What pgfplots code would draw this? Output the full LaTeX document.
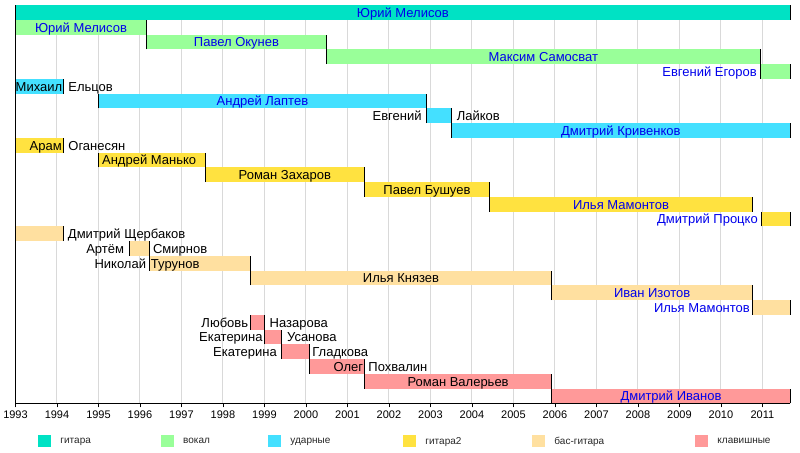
\documentclass[border=0pt]{standalone}
\usepackage{pgfplots}
\pgfplotsset{compat=1.18}
\usepackage{fontspec}
\setmainfont{Liberation Sans}
\definecolor{gitaraC}{RGB}{0,226,196}
\definecolor{vokalC}{RGB}{153,255,153}
\definecolor{udarC}{RGB}{68,224,255}
\definecolor{gtwoC}{RGB}{255,226,64}
\definecolor{bassC}{RGB}{255,224,160}
\definecolor{keysC}{RGB}{255,153,153}
\definecolor{lblue}{RGB}{0,0,235}
\tikzset{lbl/.style={font=\fontsize{13bp}{15bp}\selectfont, inner sep=0pt}}
\begin{document}
\begin{tikzpicture}
\path[use as bounding box] (0,0) rectangle (800bp,453bp);
\begin{axis}[
  at={(15.5bp,49.7bp)}, anchor=south west,
  scale only axis, width=774.8bp, height=398.3bp,
  xmin=1993, xmax=2011.67, ymin=0, ymax=27,
  axis x line*=bottom, axis y line*=left,
  ytick=\empty,
  xtick={1993,1994,...,2011},
  x tick label style={font=\fontsize{11bp}{12bp}\selectfont, /pgf/number format/1000 sep=, /pgf/number format/assume math mode=true},
  xmajorgrids, grid style={color=black!15, line width=1bp},
  major tick length=4bp, xtick align=outside, tick style={black, line width=0.8bp},
  axis line style={black, line width=1bp, -},
  clip=false,
  legend columns=6,
  legend image code/.code={\fill[#1] (0bp,-6.2bp) rectangle (12.4bp,6.2bp);},
  legend style={at={(axis description cs:0.0294,-0.0954)}, anchor=west, draw=none, fill=none,
    inner sep=0pt, /tikz/column sep=0pt, nodes={inner sep=0pt, font=\fontsize{10bp}{11bp}\selectfont, text=black!85}},
  legend cell align=left,
]
\addlegendimage{fill=gitaraC, draw=none}
\addlegendentry{\hspace*{9.6bp}\makebox[100.7bp][l]{гитара}}
\addlegendimage{fill=vokalC, draw=none}
\addlegendentry{\hspace*{9.6bp}\makebox[85.3bp][l]{вокал}}
\addlegendimage{fill=udarC, draw=none}
\addlegendentry{\hspace*{9.6bp}\makebox[113bp][l]{ударные}}
\addlegendimage{fill=gtwoC, draw=none}
\addlegendentry{\hspace*{9.6bp}\makebox[107bp][l]{гитара2}}
\addlegendimage{fill=bassC, draw=none}
\addlegendentry{\hspace*{9.6bp}\makebox[141bp][l]{бас-гитара}}
\addlegendimage{fill=keysC, draw=none}
\addlegendentry{\hspace*{9.6bp}\makebox[60bp][l]{клавишные}}

% гитара
\addplot[fill=gitaraC, draw=none, forget plot] coordinates {(1993,26) (2011.67,26) (2011.67,27) (1993,27)} -- cycle;
% вокал
\addplot[fill=vokalC, draw=none, forget plot] coordinates {(1993,25) (1996.16,25) (1996.16,26) (1993,26)} -- cycle;
\addplot[fill=vokalC, draw=none, forget plot] coordinates {(1996.16,24) (2000.49,24) (2000.49,25) (1996.16,25)} -- cycle;
\addplot[fill=vokalC, draw=none, forget plot] coordinates {(2000.49,23) (2010.95,23) (2010.95,24) (2000.49,24)} -- cycle;
\addplot[fill=vokalC, draw=none, forget plot] coordinates {(2010.95,22) (2011.67,22) (2011.67,23) (2010.95,23)} -- cycle;
% ударные
\addplot[fill=udarC, draw=none, forget plot] coordinates {(1993,21) (1994.15,21) (1994.15,22) (1993,22)} -- cycle;
\addplot[fill=udarC, draw=none, forget plot] coordinates {(1995.0,20) (2002.90,20) (2002.90,21) (1995.0,21)} -- cycle;
\addplot[fill=udarC, draw=none, forget plot] coordinates {(2002.90,19) (2003.50,19) (2003.50,20) (2002.90,20)} -- cycle;
\addplot[fill=udarC, draw=none, forget plot] coordinates {(2003.50,18) (2011.67,18) (2011.67,19) (2003.50,19)} -- cycle;
% гитара2
\addplot[fill=gtwoC, draw=none, forget plot] coordinates {(1993,17) (1994.15,17) (1994.15,18) (1993,18)} -- cycle;
\addplot[fill=gtwoC, draw=none, forget plot] coordinates {(1995.0,16) (1997.57,16) (1997.57,17) (1995.0,17)} -- cycle;
\addplot[fill=gtwoC, draw=none, forget plot] coordinates {(1997.57,15) (2001.41,15) (2001.41,16) (1997.57,16)} -- cycle;
\addplot[fill=gtwoC, draw=none, forget plot] coordinates {(2001.41,14) (2004.42,14) (2004.42,15) (2001.41,15)} -- cycle;
\addplot[fill=gtwoC, draw=none, forget plot] coordinates {(2004.42,13) (2010.76,13) (2010.76,14) (2004.42,14)} -- cycle;
\addplot[fill=gtwoC, draw=none, forget plot] coordinates {(2010.98,12) (2011.67,12) (2011.67,13) (2010.98,13)} -- cycle;
% бас-гитара
\addplot[fill=bassC, draw=none, forget plot] coordinates {(1993,11) (1994.15,11) (1994.15,12) (1993,12)} -- cycle;
\addplot[fill=bassC, draw=none, forget plot] coordinates {(1995.74,10) (1996.22,10) (1996.22,11) (1995.74,11)} -- cycle;
\addplot[fill=bassC, draw=none, forget plot] coordinates {(1996.22,9) (1998.66,9) (1998.66,10) (1996.22,10)} -- cycle;
\addplot[fill=bassC, draw=none, forget plot] coordinates {(1998.66,8) (2005.92,8) (2005.92,9) (1998.66,9)} -- cycle;
\addplot[fill=bassC, draw=none, forget plot] coordinates {(2005.92,7) (2010.76,7) (2010.76,8) (2005.92,8)} -- cycle;
\addplot[fill=bassC, draw=none, forget plot] coordinates {(2010.76,6) (2011.67,6) (2011.67,7) (2010.76,7)} -- cycle;
% клавишные
\addplot[fill=keysC, draw=none, forget plot] coordinates {(1998.66,5) (1999.00,5) (1999.00,6) (1998.66,6)} -- cycle;
\addplot[fill=keysC, draw=none, forget plot] coordinates {(1999.00,4) (1999.42,4) (1999.42,5) (1999.00,5)} -- cycle;
\addplot[fill=keysC, draw=none, forget plot] coordinates {(1999.42,3) (2000.09,3) (2000.09,4) (1999.42,4)} -- cycle;
\addplot[fill=keysC, draw=none, forget plot] coordinates {(2000.09,2) (2001.41,2) (2001.41,3) (2000.09,3)} -- cycle;
\addplot[fill=keysC, draw=none, forget plot] coordinates {(2001.41,1) (2005.92,1) (2005.92,2) (2001.41,2)} -- cycle;
\addplot[fill=keysC, draw=none, forget plot] coordinates {(2005.92,0) (2011.67,0) (2011.67,1) (2005.92,1)} -- cycle;

% bar edge markers
\addplot[black, line width=1bp, forget plot, unbounded coords=jump] coordinates {
(2011.67,26) (2011.67,27) (2011.67,nan)
(1996.16,24) (1996.16,26) (1996.16,nan)
(2000.49,23) (2000.49,25) (2000.49,nan)
(2010.95,22) (2010.95,24) (2010.95,nan)
(2011.67,22) (2011.67,23) (2011.67,nan)
(1994.15,21) (1994.15,22) (1994.15,nan)
(1995.00,20) (1995.00,21) (1995.00,nan)
(2002.90,19) (2002.90,21) (2002.90,nan)
(2003.50,18) (2003.50,20) (2003.50,nan)
(2011.67,18) (2011.67,19) (2011.67,nan)
(1994.15,17) (1994.15,18) (1994.15,nan)
(1995.00,16) (1995.00,17) (1995.00,nan)
(1997.57,15) (1997.57,17) (1997.57,nan)
(2001.41,14) (2001.41,16) (2001.41,nan)
(2004.42,13) (2004.42,15) (2004.42,nan)
(2010.76,13) (2010.76,14) (2010.76,nan)
(2010.98,12) (2010.98,13) (2010.98,nan)
(2011.67,12) (2011.67,13) (2011.67,nan)
(1994.15,11) (1994.15,12) (1994.15,nan)
(1995.74,10) (1995.74,11) (1995.74,nan)
(1996.22,9) (1996.22,11) (1996.22,nan)
(1998.66,8) (1998.66,10) (1998.66,nan)
(2005.92,7) (2005.92,9) (2005.92,nan)
(2010.76,6) (2010.76,8) (2010.76,nan)
(2011.67,6) (2011.67,7) (2011.67,nan)
(1998.66,5) (1998.66,6) (1998.66,nan)
(1999.00,4) (1999.00,6) (1999.00,nan)
(1999.42,3) (1999.42,5) (1999.42,nan)
(2000.09,2) (2000.09,4) (2000.09,nan)
(2001.41,1) (2001.41,3) (2001.41,nan)
(2005.92,0) (2005.92,2) (2005.92,nan)
(2011.67,0) (2011.67,1) (2011.67,nan)
};

% labels
\node[lbl, text=lblue, anchor=base] at (axis cs:2002.335,26.16) {Юрий Мелисов};
\node[lbl, text=lblue, anchor=base] at (axis cs:1994.58,25.16) {Юрий Мелисов};
\node[lbl, text=lblue, anchor=base] at (axis cs:1998.325,24.16) {Павел Окунев};
\node[lbl, text=lblue, anchor=base] at (axis cs:2005.72,23.16) {Максим Самосват};
\node[lbl, text=lblue, anchor=base east] at (axis cs:2010.865,22.16) {Евгений Егоров};
\node[lbl, anchor=base east] at (axis cs:1994.13,21.16) {Михаил};
\node[lbl, anchor=base west] at (axis cs:1994.27,21.16) {Ельцов};
\node[lbl, text=lblue, anchor=base] at (axis cs:1998.95,20.16) {Андрей Лаптев};
\node[lbl, anchor=base east] at (axis cs:2002.79,19.16) {Евгений};
\node[lbl, anchor=base west] at (axis cs:2003.63,19.16) {Лайков};
\node[lbl, text=lblue, anchor=base] at (axis cs:2007.585,18.16) {Дмитрий Кривенков};
\node[lbl, anchor=base east] at (axis cs:1994.12,17.16) {Арам};
\node[lbl, anchor=base west] at (axis cs:1994.27,17.16) {Оганесян};
\node[lbl, anchor=base] at (axis cs:1996.22,16.16) {Андрей Манько};
\node[lbl, anchor=base] at (axis cs:1999.49,15.16) {Роман Захаров};
\node[lbl, anchor=base] at (axis cs:2002.915,14.16) {Павел Бушуев};
\node[lbl, text=lblue, anchor=base] at (axis cs:2007.59,13.16) {Илья Мамонтов};
\node[lbl, text=lblue, anchor=base east] at (axis cs:2010.89,12.16) {Дмитрий Процко};
\node[lbl, anchor=base west] at (axis cs:1994.26,11.16) {Дмитрий Щербаков};
\node[lbl, anchor=base east] at (axis cs:1995.62,10.16) {Артём};
\node[lbl, anchor=base west] at (axis cs:1996.31,10.16) {Смирнов};
\node[lbl, anchor=base east] at (axis cs:1996.15,9.16) {Николай};
\node[lbl, anchor=base west] at (axis cs:1996.26,9.16) {Турунов};
\node[lbl, anchor=base] at (axis cs:2002.29,8.16) {Илья Князев};
\node[lbl, text=lblue, anchor=base] at (axis cs:2008.34,7.16) {Иван Изотов};
\node[lbl, text=lblue, anchor=base east] at (axis cs:2010.70,6.16) {Илья Мамонтов};
\node[lbl, anchor=base east] at (axis cs:1998.61,5.16) {Любовь};
\node[lbl, anchor=base west] at (axis cs:1999.12,5.16) {Назарова};
\node[lbl, anchor=base east] at (axis cs:1998.96,4.16) {Екатерина};
\node[lbl, anchor=base west] at (axis cs:1999.54,4.16) {Усанова};
\node[lbl, anchor=base east] at (axis cs:1999.30,3.16) {Екатерина};
\node[lbl, anchor=base west] at (axis cs:2000.15,3.16) {Гладкова};
\node[lbl, anchor=base east] at (axis cs:2001.38,2.16) {Олег};
\node[lbl, anchor=base west] at (axis cs:2001.50,2.16) {Похвалин};
\node[lbl, anchor=base] at (axis cs:2003.665,1.16) {Роман Валерьев};
\node[lbl, text=lblue, anchor=base] at (axis cs:2008.795,0.16) {Дмитрий Иванов};
\end{axis}
\end{tikzpicture}
\end{document}
